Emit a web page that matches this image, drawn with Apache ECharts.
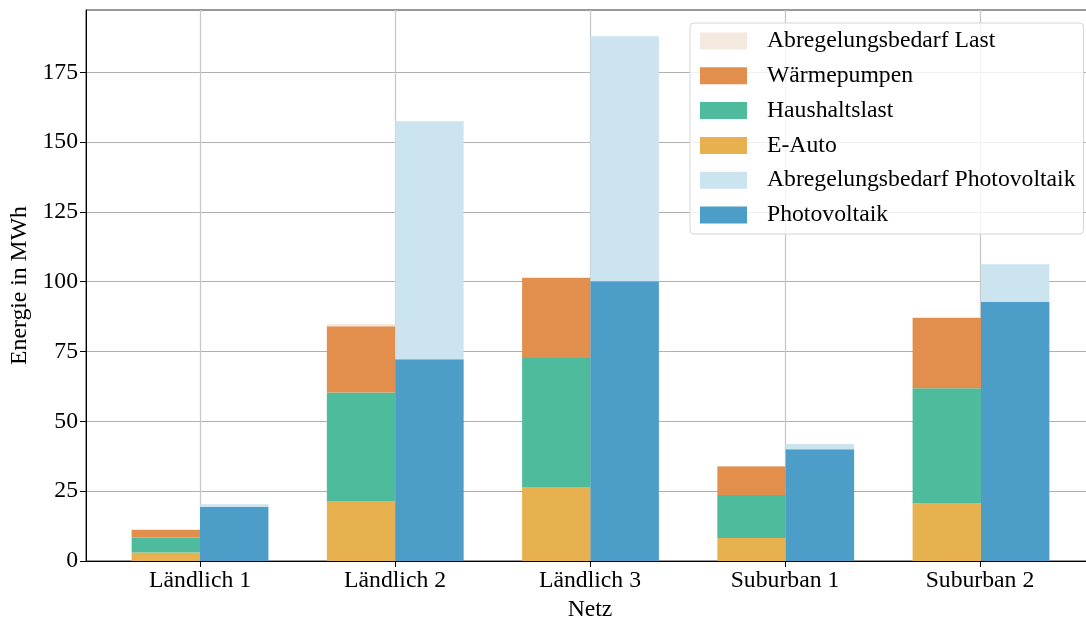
<!DOCTYPE html>
<html>
<head>
<meta charset="utf-8">
<script src="https://cdn.jsdelivr.net/npm/echarts@6/dist/echarts.min.js"></script>
<style>html,body{margin:0;padding:0;background:#fff;}#c{width:1086px;height:617px;}</style>
</head>
<body>
<div id="c"></div>
<script>
const categories = ['Ländlich 1', 'Ländlich 2', 'Ländlich 3', 'Suburban 1', 'Suburban 2'];
const eAuto = [3.0, 21.5, 26.5, 8.2, 20.8];
const haushaltslast = [5.4, 38.8, 46.2, 15.4, 41.1];
const waermepumpen = [2.8, 23.8, 28.7, 10.3, 25.2];
const abregelungLast = [0.1, 0.8, 0.1, 0.1, 0.1];
const photovoltaik = [19.4, 72.2, 100.2, 40.0, 92.8];
const abregelungPV = [0.9, 85.3, 87.7, 1.9, 13.5];
const yTicks = [0, 25, 50, 75, 100, 125, 150, 175];

const FONT = 'Liberation Serif';
const FS = 23.7;
const YMAX = 197.3;
const idx = categories.map((_, i) => i);

const colors = {
  abLast: '#f4e9df',
  wp: '#e28e4c',
  hh: '#4ebb9d',
  ea: '#e8b150',
  abPV: '#cce3f0',
  pv: '#4d9dc9'
};

const BW = 68.4;
function bar(name, data, stack, color) {
  return {
    name, type: 'bar', stack, data, barWidth: BW, barGap: '0%',
    xAxisIndex: 1, yAxisIndex: 1,
    itemStyle: { color }, emphasis: { disabled: true }
  };
}

const chart = echarts.init(document.getElementById('c'), null, { renderer: 'canvas' });
chart.setOption({
  animation: false,
  backgroundColor: '#fff',
  textStyle: { fontFamily: FONT, color: '#000' },
  grid: [
    { left: 86, right: -8, top: 10, bottom: 56, outerBoundsMode: 'none', containLabel: false,
      show: true, borderColor: '#333', borderWidth: 1, backgroundColor: 'transparent' },
    { left: 102.4, right: 7.4, top: 10, bottom: 56, outerBoundsMode: 'none', containLabel: false }
  ],
  legend: {
    orient: 'vertical', left: 690, top: 23,
    data: ['Abregelungsbedarf Last', 'Wärmepumpen', 'Haushaltslast', 'E-Auto', 'Abregelungsbedarf Photovoltaik', 'Photovoltaik'],
    icon: 'rect', itemWidth: 47, itemHeight: 17, itemGap: 10.8,
    padding: [6, 8, 7, 10],
    backgroundColor: 'rgba(255,255,255,0.8)', borderColor: '#d6d6d6', borderWidth: 1, borderRadius: 4,
    textStyle: { fontFamily: FONT, fontSize: FS, color: '#000', lineHeight: 24, padding: [0, 0, 0, 15] },
    selectedMode: false
  },
  xAxis: [
    {
      gridIndex: 0, type: 'value', min: -0.585, max: 4.585,
      name: 'Netz', nameLocation: 'middle', nameGap: 30,
      nameTextStyle: { fontFamily: FONT, fontSize: FS, color: '#000' },
      axisLine: { onZero: false, lineStyle: { color: '#000', width: 1 } },
      axisTick: { show: true, customValues: idx, length: 6, lineStyle: { color: '#000' } },
      axisLabel: { customValues: idx, formatter: v => categories[Math.round(v)], fontFamily: FONT, fontSize: FS, color: '#000', margin: 8 },
      splitLine: { show: true, lineStyle: { color: '#c8c8c8', width: 1.3 } }
    },
    {
      gridIndex: 1, type: 'category', data: categories, show: false
    }
  ],
  yAxis: [
    {
      gridIndex: 0, type: 'value', min: 0, max: YMAX,
      name: 'Energie in MWh', nameLocation: 'middle', nameGap: 53, nameRotate: 90,
      nameTextStyle: { fontFamily: FONT, fontSize: FS, color: '#000' },
      axisLine: { show: true, onZero: false, lineStyle: { color: '#000', width: 1 } },
      axisTick: { show: true, customValues: yTicks, length: 6, lineStyle: { color: '#000' } },
      axisLabel: { customValues: yTicks, fontFamily: FONT, fontSize: FS, color: '#000', margin: 8 },
      splitLine: { show: true, lineStyle: { color: '#b0b0b0', width: 1 } }
    },
    {
      gridIndex: 1, type: 'value', min: 0, max: YMAX, show: false, splitLine: { show: false }
    }
  ],
  series: [
    bar('E-Auto', eAuto, 'last', colors.ea),
    bar('Haushaltslast', haushaltslast, 'last', colors.hh),
    bar('Wärmepumpen', waermepumpen, 'last', colors.wp),
    bar('Abregelungsbedarf Last', abregelungLast, 'last', colors.abLast),
    bar('Photovoltaik', photovoltaik, 'pv', colors.pv),
    bar('Abregelungsbedarf Photovoltaik', abregelungPV, 'pv', colors.abPV)
  ]
});
</script>
</body>
</html>
